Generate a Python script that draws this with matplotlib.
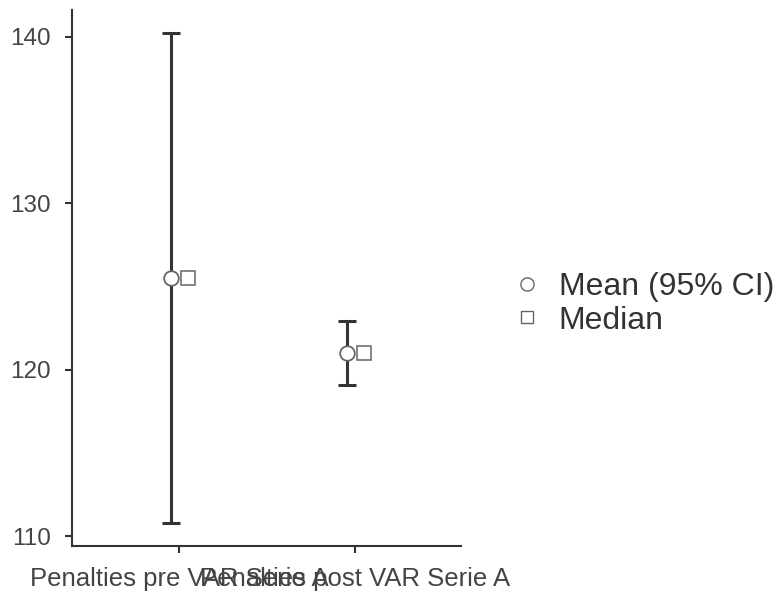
import matplotlib
matplotlib.use("Agg")
from matplotlib import pyplot as plt
from matplotlib.lines import Line2D

# data
groups = ["Penalties pre VAR Serie A", "Penalties post VAR Serie A"]
means = [125.5, 121.0]
ci_low = [110.8, 119.05]
ci_high = [140.2, 122.9]
medians = [125.5, 121.0]
yticks = [110, 120, 130, 140]

plt.rcParams['font.family'] = ['Liberation Sans', 'DejaVu Sans']

fig = plt.figure(figsize=(7.77, 5.93), dpi=100)
ax = fig.add_axes([72/777, 47/593, (461-72)/777, (546-10)/593])

x = [1, 2]
dodge = 0.05
xm = [xi - dodge for xi in x]
xmed = [xi + dodge for xi in x]
err = [[m - l for m, l in zip(means, ci_low)], [h - m for m, h in zip(means, ci_high)]]
ax.errorbar(xm, means, yerr=err, fmt='none', ecolor='#333333', elinewidth=2.2,
            capsize=6.3, capthick=2.2, zorder=2)
ax.plot(xm, means, 'o', ms=10.5, mfc='white', mec='#666666', mew=1.3, zorder=3)
ax.plot(xmed, medians, 's', ms=9.5, mfc='white', mec='#666666', mew=1.1, zorder=3)

ax.set_xlim(0.39, 2.6)
ax.set_ylim(109.4, 141.6)
ax.set_xticks(x)
ax.set_xticklabels(groups, fontsize=18.5, color='#444444')
ax.set_yticks(yticks)
ax.set_yticklabels([str(t) for t in yticks], fontsize=17.5, color='#444444')
ax.tick_params(length=5, width=1.5, color='#333333')
ax.tick_params(axis='y', pad=10)
ax.tick_params(axis='x', pad=10)

for s in ['top', 'right']:
    ax.spines[s].set_visible(False)
for s in ['left', 'bottom']:
    ax.spines[s].set_color('#333333')
    ax.spines[s].set_linewidth(1.5)

handles = [Line2D([], [], ls='none', marker='o', ms=9.5, mfc='white', mec='#666666', mew=1.0),
           Line2D([], [], ls='none', marker='s', ms=9, mfc='white', mec='#666666', mew=1.0)]
fig.legend(handles, ["Mean (95% CI)", "Median"], loc='center left',
           bbox_to_anchor=(498/777, 1 - 304/593), frameon=False, fontsize=23,
           handletextpad=0.5, labelspacing=0.1, handlelength=1.0,
           labelcolor='#333333', borderaxespad=0)

fig.savefig("out.png", dpi=100)
